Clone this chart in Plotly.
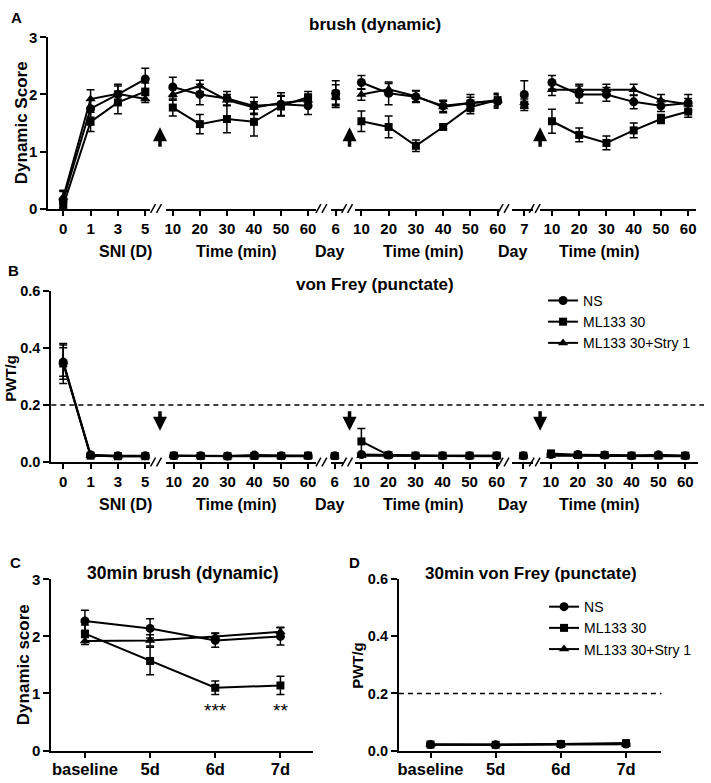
import plotly.graph_objects as go

# ---------------- data ----------------
series_names = ["NS", "ML133 30", "ML133 30+Stry 1"]
series_symbols = ["circle", "square", "triangle-up"]
series_sizes = [9, 8, 9]

sni_days = ["0", "1", "3", "5"]
minutes = ["10", "20", "30", "40", "50", "60"]
day6 = ["6"]
day7 = ["7"]
segment_cats = [sni_days, minutes, day6, minutes, day7, minutes]
group_labels = ["SNI (D)", "Time (min)", "Day", "Time (min)", "Day", "Time (min)"]

# Panel A  brush (dynamic) - one list per axis segment
A_ns_mean = [[0.15, 1.75, 2.00, 2.27], [2.13, 2.00, 1.93, 1.80, 1.83, 1.80], [2.02],
             [2.21, 2.02, 1.96, 1.80, 1.85, 1.88], [2.00], [2.21, 2.00, 2.00, 1.87, 1.80, 1.85]]
A_ns_sem = [[0.15, 0.15, 0.15, 0.19], [0.17, 0.18, 0.12, 0.15, 0.20, 0.15], [0.22],
            [0.12, 0.20, 0.10, 0.10, 0.15, 0.12], [0.24], [0.12, 0.15, 0.12, 0.12, 0.10, 0.15]]
A_ml_mean = [[0.05, 1.52, 1.86, 2.05], [1.77, 1.48, 1.57, 1.52, 1.80, 1.95], [1.97],
             [1.53, 1.43, 1.10, 1.43, 1.78, 1.90], [1.82], [1.53, 1.29, 1.15, 1.37, 1.57, 1.70]]
A_ml_sem = [[0.05, 0.17, 0.20, 0.15], [0.15, 0.17, 0.24, 0.25, 0.18, 0.10], [0.20],
            [0.18, 0.19, 0.10, 0.03, 0.12, 0.12], [0.10], [0.21, 0.12, 0.12, 0.13, 0.08, 0.10]]
A_st_mean = [[0.20, 1.92, 2.01, 1.92], [2.00, 2.15, 1.90, 1.77, 1.85, 1.90], [1.95],
             [2.00, 2.09, 1.97, 1.78, 1.85, 1.90], [1.86], [2.08, 2.08, 2.08, 2.08, 1.90, 1.83]]
A_st_sem = [[0.12, 0.16, 0.17, 0.06], [0.10, 0.10, 0.10, 0.10, 0.12, 0.10], [0.12],
            [0.10, 0.10, 0.10, 0.10, 0.10, 0.10], [0.10], [0.10, 0.10, 0.10, 0.10, 0.10, 0.10]]
# significance marks on ML133 30: (segment, category, text)
A_stars = [(3, "10", "*"), (3, "20", "*"), (3, "30", "***"),
           (5, "10", "*"), (5, "20", "*"), (5, "30", "**")]

# Panel B  von Frey (punctate) PWT/g
B_ns_mean = [[0.35, 0.025, 0.022, 0.022], [0.022, 0.022, 0.021, 0.024, 0.022, 0.022], [0.022],
             [0.026, 0.024, 0.022, 0.022, 0.022, 0.022], [0.022], [0.026, 0.026, 0.024, 0.022, 0.025, 0.022]]
B_ns_sem = [[0.05, 0.004, 0.002, 0.002], [0.003] * 6, [0.002], [0.004] * 6, [0.002], [0.003] * 6]
B_ml_mean = [[0.345, 0.022, 0.020, 0.020], [0.022, 0.021, 0.020, 0.021, 0.021, 0.022], [0.021],
             [0.072, 0.024, 0.022, 0.022, 0.022, 0.022], [0.022], [0.030, 0.024, 0.024, 0.022, 0.022, 0.022]]
B_ml_sem = [[0.07, 0.003, 0.002, 0.002], [0.003] * 6, [0.002], [0.045, 0.003, 0.002, 0.002, 0.002, 0.002],
            [0.002], [0.004] * 6]
B_st_mean = [[0.35, 0.022, 0.020, 0.020], [0.022, 0.020, 0.020, 0.020, 0.020, 0.020], [0.020],
             [0.022, 0.022, 0.020, 0.020, 0.020, 0.020], [0.020], [0.022, 0.022, 0.022, 0.020, 0.020, 0.020]]
B_st_sem = [[0.06, 0.003, 0.002, 0.002], [0.002] * 6, [0.002], [0.002] * 6, [0.002], [0.002] * 6]
PWT_THRESHOLD = 0.2

# Panel C / D  30 min
days30 = ["baseline", "5d", "6d", "7d"]
C_ns_mean = [2.27, 2.14, 1.93, 2.00]
C_ns_sem = [0.19, 0.17, 0.12, 0.15]
C_ml_mean = [2.05, 1.57, 1.10, 1.14]
C_ml_sem = [0.15, 0.24, 0.12, 0.16]
C_st_mean = [1.92, 1.93, 2.00, 2.08]
C_st_sem = [0.06, 0.10, 0.06, 0.08]
C_stars = [("6d", "***"), ("7d", "**")]

D_ns_mean = [0.021, 0.020, 0.022, 0.023]
D_ns_sem = [0.002, 0.002, 0.002, 0.002]
D_ml_mean = [0.021, 0.020, 0.023, 0.026]
D_ml_sem = [0.002, 0.002, 0.003, 0.003]
D_st_mean = [0.020, 0.020, 0.021, 0.022]
D_st_sem = [0.002, 0.002, 0.002, 0.002]

# ---------------- layout helpers ----------------
W, H = 711, 783
FONT = "Liberation Sans, Arial, sans-serif"


def px_x(p):
    return p / W


def px_y(p):
    return 1 - p / H


def seg_range(d0, d1, first_tick, step):
    left = (d0 - first_tick) / step
    return [left, left + (d1 - d0) / step]


def bold(size):
    return dict(family=FONT, size=size, color="black", weight="bold")


layout = {}
annotations = []
shapes = []
fig = go.Figure()


def axis_name(i, kind):
    return kind if i == 1 else f"{kind}{i}"


def make_xaxis(i, d0, d1, rng, cats, yref, fsize, standoff=0):
    layout["xaxis" if i == 1 else f"xaxis{i}"] = dict(
        domain=[px_x(d0), px_x(d1)], range=rng, type="category",
        categoryorder="array", categoryarray=cats, anchor=yref,
        showline=True, linewidth=2, linecolor="black", ticks="outside",
        ticklen=5, tickwidth=1.5, tickcolor="black", showgrid=False,
        zeroline=False, tickfont=bold(fsize), fixedrange=True,
        ticklabelstandoff=standoff)


def make_yaxis(j, top, bottom, rng, tickvals, fmt, xref, fsize):
    layout["yaxis" if j == 1 else f"yaxis{j}"] = dict(
        domain=[px_y(bottom), px_y(top)], range=rng, anchor=xref,
        tickvals=tickvals, tickformat=fmt, showline=True, linewidth=2,
        linecolor="black", ticks="outside", ticklen=6, tickwidth=2,
        tickcolor="black", showgrid=False, zeroline=False,
        tickfont=bold(fsize), fixedrange=True)


def add_series(x, y, err, k, xa, ya, showlegend=False, legend="legend"):
    fig.add_trace(go.Scatter(
        x=x, y=y, mode="lines+markers", name=series_names[k],
        line=dict(color="black", width=2),
        marker=dict(symbol=series_symbols[k], size=series_sizes[k], color="black"),
        error_y=dict(type="data", array=err, visible=True, color="black",
                     thickness=1.5, width=4),
        xaxis=xa, yaxis=ya, cliponaxis=False, showlegend=showlegend,
        legend=legend))


def slashes(cx, py):
    for off in (-5, 1):
        shapes.append(dict(type="line", xref="paper", yref="paper",
                           x0=px_x(cx + off - 2.5), y0=px_y(py + 4.5),
                           x1=px_x(cx + off + 2.5), y1=px_y(py - 4.5),
                           line=dict(color="black", width=1.5)))


def text(x, y, s, font, angle=0, xanchor="center"):
    annotations.append(dict(x=px_x(x), y=px_y(y), xref="paper", yref="paper",
                            text=s, showarrow=False, font=font, textangle=angle,
                            xanchor=xanchor, yanchor="middle"))


def arrow(x, y_head, y_tail):
    annotations.append(dict(x=px_x(x), y=px_y(y_head), xref="paper", yref="paper",
                            ax=0, ay=y_tail - y_head, showarrow=True, arrowhead=2,
                            arrowsize=0.8, arrowwidth=3.5, arrowcolor="black", text=""))


# ---------------- panels A and B (segmented axes) ----------------
A_geom = [(47, 150, 62, 27.7), (166, 318, 173, 27.4), (333, 345, 338, 27.4),
          (358, 503, 364, 27.6), (517, 538, 529, 27.6), (545, 703, 557, 27.6)]
B_geom = [(50, 150, 62, 27.7), (166, 318, 174, 27.2), (333, 345, 337, 27.4),
          (358, 503, 364, 27.4), (517, 538, 528, 27.6), (545, 705, 556, 27.2)]
break_centers = [158, 325.5, 351.5, 510, 541.5]
group_x = [125, 237, 332, 427, 517, 605]

A_sets = [(A_ns_mean, A_ns_sem), (A_ml_mean, A_ml_sem), (A_st_mean, A_st_sem)]
B_sets = [(B_ns_mean, B_ns_sem), (B_ml_mean, B_ml_sem), (B_st_mean, B_st_sem)]

# panel A axes: x..x6 with y ; panel B axes: x7..x12 with y2
for s, (d0, d1, t0, st) in enumerate(A_geom):
    make_xaxis(s + 1, d0, d1, seg_range(d0, d1, t0, st), segment_cats[s], "y", 15)
for s, (d0, d1, t0, st) in enumerate(B_geom):
    make_xaxis(s + 7, d0, d1, seg_range(d0, d1, t0, st), segment_cats[s], "y2", 15)

make_yaxis(1, 29, 204, [0, 3], [0, 1, 2, 3], "d", "x", 15)
make_yaxis(2, 288, 463, [0, 0.6], [0, 0.2, 0.4, 0.6], ".1f", "x7", 14.5)

for k in range(3):
    for s in range(6):
        add_series(segment_cats[s], A_sets[k][0][s], A_sets[k][1][s], k,
                   axis_name(s + 1, "x"), "y")
for k in range(3):
    for s in range(6):
        add_series(segment_cats[s], B_sets[k][0][s], B_sets[k][1][s], k,
                   axis_name(s + 7, "x"), "y2", showlegend=(s == 0), legend="legend")

for seg, cat, star in A_stars:
    idx = segment_cats[seg].index(cat)
    annotations.append(dict(x=cat, y=A_ml_mean[seg][idx] - A_ml_sem[seg][idx],
                            xref=axis_name(seg + 1, "x"), yref="y", text=star,
                            showarrow=False, yanchor="top", yshift=-3,
                            font=dict(family=FONT, size=19, color="black")))

for cx in break_centers:
    slashes(cx, 204)
    slashes(cx, 463)

for gx, lab in zip(group_x, group_labels):
    text(gx, 248, lab, bold(16))
    text(gx, 506, lab, bold(16))

for ax_ in (160, 352, 545):
    arrow(ax_, 121, 142)
    arrow(ax_, 431, 410)

shapes.append(dict(type="line", xref="paper", yref="y2", x0=px_x(50), x1=1,
                   y0=PWT_THRESHOLD, y1=PWT_THRESHOLD,
                   line=dict(color="black", width=1.5, dash="5px,4px")))

text(15, 9, "A", bold(15))
text(12, 267, "B", bold(15))
text(378, 16, "brush (dynamic)", bold(17))
text(378, 282, "von Frey (punctate)", bold(17))
text(20, 116, "Dynamic Score", bold(17), angle=-90)
text(9, 377, "PWT/g", bold(15), angle=-90)

# ---------------- panels C and D ----------------
make_xaxis(13, 50, 315, seg_range(50, 315, 84, 66), days30, "y3", 16.5, standoff=-2)
make_yaxis(3, 583, 758, [0, 3], [0, 1, 2, 3], "d", "x13", 15)
make_xaxis(14, 402, 667, seg_range(402, 667, 434, 66), days30, "y4", 16.5, standoff=-2)
make_yaxis(4, 583, 758, [0, 0.6], [0, 0.2, 0.4, 0.6], ".1f", "x14", 14.5)

C_sets = [(C_ns_mean, C_ns_sem), (C_ml_mean, C_ml_sem), (C_st_mean, C_st_sem)]
D_sets = [(D_ns_mean, D_ns_sem), (D_ml_mean, D_ml_sem), (D_st_mean, D_st_sem)]
for k in range(3):
    add_series(days30, C_sets[k][0], C_sets[k][1], k, "x13", "y3")
for k in range(3):
    add_series(days30, D_sets[k][0], D_sets[k][1], k, "x14", "y4",
               showlegend=True, legend="legend2")

for cat, star in C_stars:
    idx = days30.index(cat)
    annotations.append(dict(x=cat, y=C_ml_mean[idx] - C_ml_sem[idx], xref="x13", yref="y3",
                            text=star, showarrow=False, yanchor="top", yshift=-3,
                            font=dict(family=FONT, size=19, color="black")))

shapes.append(dict(type="line", xref="paper", yref="y4", x0=px_x(402), x1=px_x(668),
                   y0=PWT_THRESHOLD, y1=PWT_THRESHOLD,
                   line=dict(color="black", width=1.5, dash="5px,4px")))

text(14, 566, "C", bold(15))
text(357, 566, "D", bold(15))
text(183, 577, "30min brush (dynamic)", bold(17.5))
text(536, 577, "30min von Frey (punctate)", bold(17))
text(22, 670, "Dynamic score", bold(17), angle=-90)
text(360, 671, "PWT/g", bold(15), angle=-90)

legend_common = dict(xanchor="left", yanchor="top", bgcolor="rgba(0,0,0,0)",
                     font=dict(family=FONT, size=14, color="black"), itemwidth=30,
                     tracegroupgap=0)
layout["legend"] = dict(x=px_x(548), y=px_y(282), **legend_common)
layout["legend2"] = dict(x=px_x(549), y=px_y(595), **legend_common)

fig.update_layout(**layout)
fig.update_layout(width=W, height=H, autosize=False,
                  margin=dict(l=0, r=0, t=0, b=0),
                  plot_bgcolor="white", paper_bgcolor="white",
                  annotations=annotations, shapes=shapes,
                  font=dict(family=FONT, color="black"))

# remove the browser's default page margin so the figure sits at the window origin
fig.write_html("out.html", config={"displayModeBar": False},
               post_script="document.body.style.margin='0';"
                           "document.body.style.overflow='hidden';")
